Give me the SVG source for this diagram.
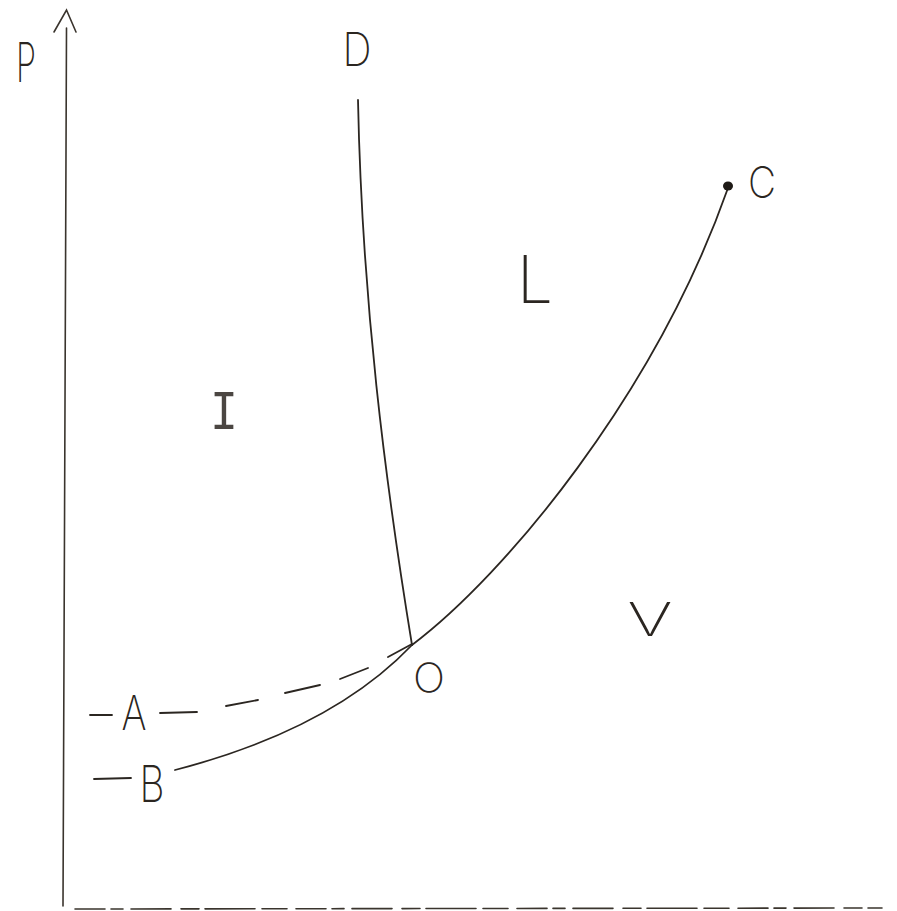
<svg xmlns="http://www.w3.org/2000/svg" width="897" height="911" viewBox="0 0 897 911">
  <style>
    .ln { fill: none; stroke: #2b2621; stroke-width: 1.8; stroke-linecap: round; stroke-linejoin: round; }
    .ax { fill: none; stroke: #3a342d; stroke-width: 1.6; stroke-linecap: round; }
    .lb { font-family: "Inter", "Lato", "Liberation Sans", sans-serif; font-weight: 200; fill: #2b2621; text-anchor: middle; }
    .lm { font-family: "Liberation Mono", "DejaVu Sans Mono", monospace; font-weight: 400; fill: #2b2621; fill-opacity: 0.85; text-anchor: middle; }
  </style>
  <rect x="0" y="0" width="897" height="911" fill="#ffffff"/>

  <g id="axes">
    <path class="ax" d="M66.5,28 L63,906"/>
    <path class="ax" d="M54,32 L66.5,10 L76,32"/>
    <path class="ax" d="M75,909 L882,908" stroke-dasharray="30 6 12 8 40 10 18 6 50 7 25 9"/>
  </g>

  <g id="connectors">
    <path id="line-DO" class="ln" d="M358,100 C362,300 385,480 412,645"/>
    <path id="line-OC" class="ln" d="M412,645 C505,575 655,395 728,188"/>
    <path id="line-BO" class="ln" d="M175,770 C260,748 350,710 412,645"/>
    <g id="line-AO" class="ln">
      <path d="M90,715 L112,715"/>
      <path d="M160,713 L197,712"/>
      <path d="M226,706 L258,700"/>
      <path d="M285,693 L320,685"/>
      <path d="M340,679 L368,668"/>
      <path d="M388,657 L412,644"/>
    </g>
    <path class="ln" d="M94,779 L131,778"/>
  </g>

  <g id="node-C">
    <ellipse cx="728" cy="186" rx="5" ry="4.5" fill="#1e1a16"/>
    <text class="lb" x="762" y="198" font-size="44" textLength="28" lengthAdjust="spacingAndGlyphs">C</text>
  </g>
  <g id="label-P"><text class="lb" x="26" y="82" font-size="55" textLength="20" lengthAdjust="spacingAndGlyphs">P</text></g>
  <g id="node-D"><text class="lb" x="357" y="66" font-size="46" textLength="29" lengthAdjust="spacingAndGlyphs">D</text></g>
  <g id="region-L"><text class="lb" x="535" y="303" font-size="66" textLength="36" lengthAdjust="spacingAndGlyphs">L</text></g>
  <g id="region-I"><text class="lm" x="224" y="429" font-size="55" textLength="28" lengthAdjust="spacingAndGlyphs">I</text></g>
  <g id="region-V"><text class="lb" x="650" y="636" font-size="47" textLength="45" lengthAdjust="spacingAndGlyphs">V</text></g>
  <g id="node-O"><text class="lb" x="429" y="692" font-size="40" textLength="32" lengthAdjust="spacingAndGlyphs">O</text></g>
  <g id="node-A"><text class="lb" x="134" y="730" font-size="48" textLength="25" lengthAdjust="spacingAndGlyphs">A</text></g>
  <g id="node-B"><text class="lb" x="152" y="802" font-size="51" textLength="25" lengthAdjust="spacingAndGlyphs">B</text></g>
</svg>
